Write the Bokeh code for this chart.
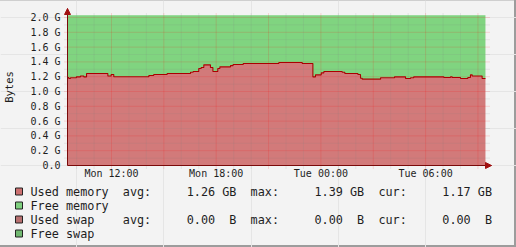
from bokeh.plotting import figure
from bokeh.models import (Range1d, FixedTicker, Arrow, NormalHead, ColumnDataSource,
                          LinearAxis)
from bokeh.core.properties import value
from bokeh.embed import file_html
from bokeh.resources import INLINE

# ---------------- data ----------------
# step start times, hours since Monday 00:00
t_start = [9.48, 9.55, 9.65, 9.99, 10.22, 10.41, 10.57, 11.79, 11.98, 12.13,
           14.14, 14.42, 15.19, 16.53, 16.68, 17.00, 17.14, 17.29, 17.67, 17.81,
           18.09, 18.21, 18.82, 18.97, 19.55, 21.59, 22.93, 23.54, 23.69, 24.02,
           24.17, 25.22, 25.37, 26.12, 26.27, 26.37, 27.42, 28.22, 28.85, 29.14,
           29.32, 31.04, 31.43, 31.52, 32.00, 32.42, 32.57, 32.67, 33.24]
t_end = 33.43
# used memory, GB
used_gb = [1.190, 1.176, 1.185, 1.198, 1.210, 1.198, 1.243, 1.210, 1.230, 1.200,
           1.216, 1.230, 1.243, 1.260, 1.270, 1.310, 1.324, 1.360, 1.324, 1.270,
           1.310, 1.333, 1.350, 1.365, 1.378, 1.392, 1.378, 1.198, 1.225, 1.252,
           1.270, 1.260, 1.243, 1.230, 1.180, 1.167, 1.185, 1.198, 1.176, 1.185,
           1.198, 1.190, 1.198, 1.190, 1.176, 1.190, 1.225, 1.210, 1.176]
total_gb = 2.03
used_swap_gb = 0.0
total_swap_gb = 0.0

series_names = ["Used memory", "Free memory", "Used swap", "Free swap"]
series_colors = ["#CC7070", "#7FD07F", "#B87070", "#70B870"]
stat_names = ["avg:", "max:", "cur:"]
mem_stats = ["1.26", "1.39", "1.17"]
mem_unit = "GB"
swap_stats = ["0.00", "0.00", "0.00"]
swap_unit = "B"

x_ticks = [12, 15, 18, 21, 24, 27, 30, 33]
x_tick_labels = {12: "Mon 12:00", 15: "", 18: "Mon 18:00", 21: "",
                 24: "Tue 00:00", 27: "", 30: "Tue 06:00", 33: ""}
x_minor = [10, 11, 13, 14, 16, 17, 19, 20, 22, 23, 25, 26, 28, 29, 31, 32]
y_ticks = [0.0, 0.2, 0.4, 0.6, 0.8, 1.0, 1.2, 1.4, 1.6, 1.8, 2.0]
y_tick_labels = ["0.0", "0.2 G", "0.4 G", "0.6 G", "0.8 G", "1.0 G",
                 "1.2 G", "1.4 G", "1.6 G", "1.8 G", "2.0 G"]
y_minor = [0.1, 0.3, 0.5, 0.7, 0.9, 1.1, 1.3, 1.5, 1.7, 1.9]

# ---------------- style / layout ----------------
FONT = "DejaVu Sans Mono"
RED = "#D27A7A"
GREEN = "#80D480"
LINE = "#AA0000"
AXIS = "#7A0A0A"
ARROW = "#A01010"
BG = "#F3F3F3"
TXT = "#1E1E1E"

PX_H = 17.45          # pixels per hour   (Mon 12:00 at x=111)
PX_G = 74.0           # pixels per GB     (0 at y=165)
W, H = 516, 247

def hx(px):           # canvas pixel -> hours
    return 12 + (px - 111) / PX_H

def gy(py):           # canvas pixel -> GB
    return (165 - py) / PX_G

XAX, XARROW, YARROW = hx(67), hx(491), gy(8)
GRID_TOP, GRID_BOT = gy(13), gy(168)
GRID_LEFT, GRID_RIGHT = hx(64), hx(489)

p = figure(width=W, height=H, output_backend="svg", toolbar_location=None,
           x_range=Range1d(hx(0), hx(W)), y_range=Range1d(gy(H), gy(0)),
           x_axis_location=None, y_axis_location=None,
           min_border=0, min_border_left=0, min_border_right=0,
           min_border_top=0, min_border_bottom=0)
p.background_fill_alpha = 0
p.border_fill_alpha = 0
p.outline_line_color = None
p.styles = {"background-color": BG,
            "box-shadow": "inset -2px -2px 0 #9C9C9C, inset 0 1px 0 #CFCFCF"}

xs = t_start + [t_end]
ys = used_gb + [used_gb[-1]]
src = ColumnDataSource(dict(x=xs, used=ys, total=[total_gb] * len(xs),
                            zero=[0.0] * len(xs),
                            uswap=[used_swap_gb] * len(xs),
                            tswap=[total_swap_gb] * len(xs)))

p.varea_step(x="x", y1="zero", y2="used", source=src, step_mode="after",
             fill_color=RED)
p.varea_step(x="x", y1="used", y2="total", source=src, step_mode="after",
             fill_color=GREEN)
p.varea_step(x="x", y1="zero", y2="uswap", source=src, step_mode="after",
             fill_color=series_colors[2])
p.varea_step(x="x", y1="uswap", y2="tswap", source=src, step_mode="after",
             fill_color=series_colors[3])

# grid (over the areas, extending a little past the axes)
def vgrid(xv, color, alpha):
    p.segment(x0=xv, y0=[GRID_BOT] * len(xv), x1=xv, y1=[GRID_TOP] * len(xv),
              line_color=color, line_alpha=alpha, line_dash="1 1")

def hgrid(yv, color, alpha):
    p.segment(x0=[GRID_LEFT] * len(yv), y0=yv, x1=[GRID_RIGHT] * len(yv),
              y1=yv, line_color=color, line_alpha=alpha, line_dash="1 1")

vgrid(x_minor, "#808080", 0.28)
hgrid(y_minor, "#808080", 0.28)
vgrid(x_ticks, "#FF0000", 0.28)
hgrid(y_ticks[1:], "#FF0000", 0.28)

p.step(x="x", y="used", source=src, mode="after", line_color=LINE,
       line_width=1.1)

# axes drawn inside the canvas at fixed positions
xa = LinearAxis(ticker=FixedTicker(ticks=x_ticks, minor_ticks=x_minor),
                major_label_overrides=x_tick_labels, fixed_location=0,
                bounds=(XAX, XARROW))
ya = LinearAxis(ticker=FixedTicker(ticks=y_ticks, minor_ticks=y_minor),
                major_label_overrides=dict(zip(y_ticks, y_tick_labels)),
                fixed_location=XAX, bounds=(0, YARROW))
for ax in (xa, ya):
    ax.axis_line_color = AXIS
    ax.axis_line_width = 1
    ax.major_tick_line_color = None
    ax.minor_tick_line_color = None
    ax.major_tick_in = 0
    ax.major_tick_out = 0
    ax.minor_tick_in = 0
    ax.minor_tick_out = 0
    ax.major_label_text_font = FONT
    ax.major_label_text_font_size = "10px"
    ax.major_label_text_color = TXT
xa.major_label_standoff = 2
ya.major_label_standoff = 7
ya.axis_label = "Bytes"
ya.axis_label_text_font = FONT
ya.axis_label_text_font_size = "10.5px"
ya.axis_label_text_font_style = "normal"
ya.axis_label_text_color = TXT
ya.axis_label_standoff = 12
p.add_layout(xa, "below")
p.add_layout(ya, "left")

for xs0, ys0, xe, ye in ((XAX, YARROW - 0.2, XAX, YARROW),
                         (XARROW - 1, 0, XARROW, 0)):
    p.add_layout(Arrow(end=NormalHead(size=6, fill_color=ARROW, line_color=ARROW,
                                      line_width=1),
                       x_start=xs0, y_start=ys0, x_end=xe, y_end=ye,
                       line_alpha=0))

# ---------------- legend ----------------
ROW_PY = [191, 205, 219, 233]
CH = 7.1
TX = 30
p.rect(x=[hx(18.5)] * 4, y=[gy(r) for r in ROW_PY], width=7, height=7,
       width_units="screen", height_units="screen", fill_color=series_colors,
       line_color="#222222", line_width=1)

lx, ly, lt = [], [], []
for name, r in zip(series_names, ROW_PY):
    lx.append(hx(TX)); ly.append(gy(r)); lt.append(name)
for r, vals, unit, ucol in ((ROW_PY[0], mem_stats, mem_unit, 5),
                            (ROW_PY[2], swap_stats, swap_unit, 6)):
    for k, (nm, v) in enumerate(zip(stat_names, vals)):
        base = 13 + 18 * k
        for txt, col in ((nm, base), (v, base + 9), (unit, base + 9 + ucol)):
            lx.append(hx(TX + col * CH)); ly.append(gy(r)); lt.append(txt)
p.text(x=lx, y=ly, text=lt, text_font=value(FONT), text_font_size="11.8px",
       text_color=TXT, text_baseline="middle")

open("out.html", "w").write(file_html(p, INLINE))
